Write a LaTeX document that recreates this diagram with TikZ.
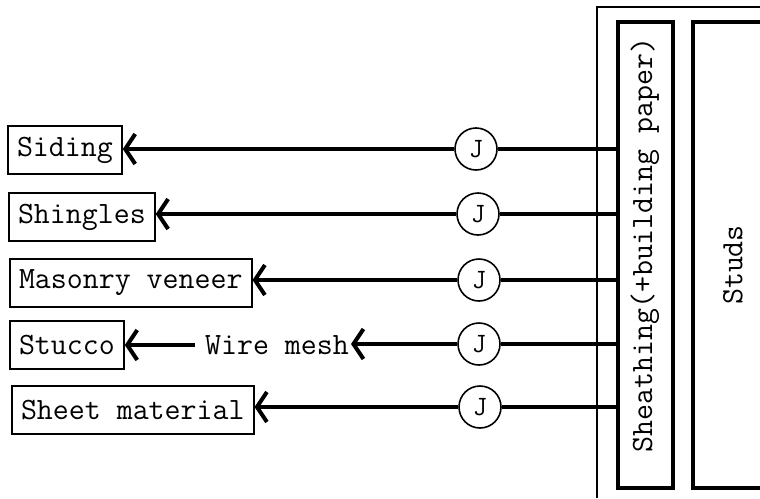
\documentclass[tikz,border=0pt]{standalone}
\usepackage{fontspec}
\usetikzlibrary{arrows.meta}
\begin{document}
\begin{tikzpicture}[x=1pt,y=-1pt,
  lbl/.style={draw,line width=2pt,font=\ttfamily\fontsize{31}{34}\selectfont,inner xsep=9pt,minimum height=48pt,anchor=west},
  jn/.style={draw,circle,line width=1.6pt,minimum size=42pt,inner sep=0pt,font=\ttfamily\fontsize{28}{30}\selectfont},
  txt/.style={font=\ttfamily\fontsize{31}{34}\selectfont,inner sep=2pt},
  heavy/.style={line width=4.8pt,-{Straight Barb[length=10pt,width=30pt,line width=4pt]}},
  link/.style={line width=3.2pt},
  wall/.style={draw,line width=4.5pt,inner sep=0pt}]
\useasboundingbox (0,0) rectangle (760,498);
% outer thin frame
\coordinate (fb) at (597,498);
\coordinate (ft) at (597,7);
\coordinate (fr) at (760,7);
\draw[line width=1.2pt] (fb) -- (ft) -- (fr);
% walls
\node[wall,minimum width=55pt,minimum height=466pt] (sheathing) at (645.5,255) {};
\node[txt,rotate=90] (sheathlabel) at (645,245) {Sheathing(+building paper)};
\node[wall,minimum width=110pt,minimum height=466pt] (studs) at (748,255) {};
\node[txt,rotate=90] (studslabel) at (733,265) {Studs};
% materials
\node[lbl] (siding) at (7,150) {Siding};
\node[lbl] (shingles) at (8,217) {Shingles};
\node[lbl] (masonry) at (9,283) {Masonry veneer};
\node[lbl] (stucco) at (9,345) {Stucco};
\node[lbl] (sheet) at (11,410) {Sheet material};
\node[txt] (wire) at (277,345) {Wire mesh};
% joints
\node[jn] (j1) at (476,149) {J};
\node[jn] (j2) at (478,214) {J};
\node[jn] (j3) at (479,280) {J};
\node[jn] (j4) at (479,344) {J};
\node[jn] (j5) at (480,407) {J};
% connectors
\foreach \j in {j1,j2,j3,j4,j5}{
  \draw[link] (\j.east) -- (\j.east -| sheathing.west);
}
\draw[heavy] (j1.west) -- (j1.west -| siding.east);
\draw[heavy] (j2.west) -- (j2.west -| shingles.east);
\draw[heavy] (j3.west) -- (j3.west -| masonry.east);
\draw[heavy] (j4.west) -- (j4.west -| wire.east);
\draw[heavy] ([xshift=-8pt]wire.west) -- (wire.west -| stucco.east);
\draw[heavy] (j5.west) -- (j5.west -| sheet.east);
\end{tikzpicture}
\end{document}
